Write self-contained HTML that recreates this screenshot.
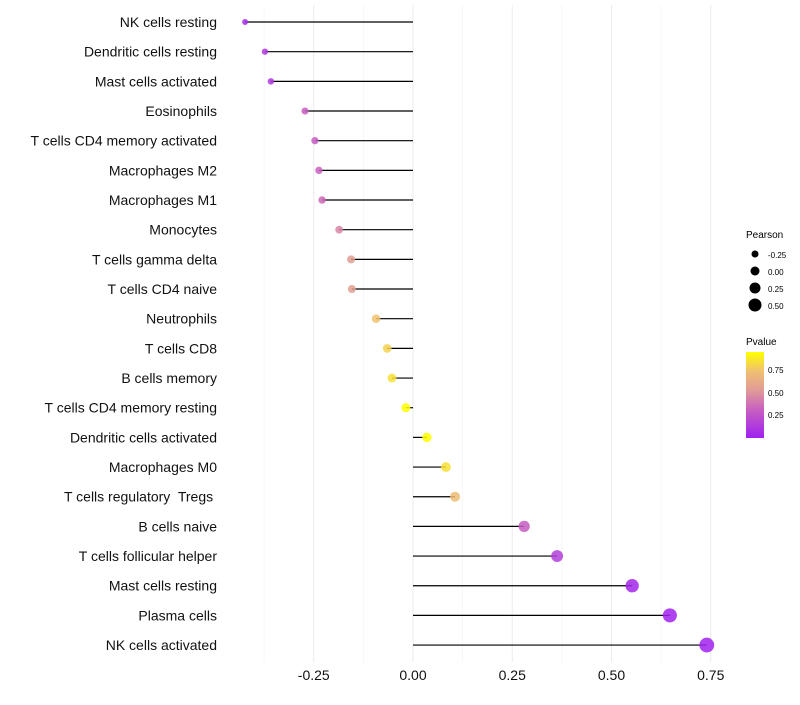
<!DOCTYPE html>
<html><head><meta charset="utf-8"><style>
body{margin:0;background:#fff;font-family:"Liberation Sans",sans-serif}
text{white-space:pre}
</style></head><body>
<svg id="chart" width="800" height="700" xmlns="http://www.w3.org/2000/svg">
<defs><linearGradient id="pg" x1="0" y1="1" x2="0" y2="0">
<stop offset="0" stop-color="#A020F0"/><stop offset="0.33" stop-color="#C860C0"/><stop offset="0.55" stop-color="#E09A98"/><stop offset="0.78" stop-color="#F0C070"/><stop offset="1" stop-color="#FFFF00"/></linearGradient></defs>
<g id="grid"></g><g id="marks"></g><g id="labels"></g>
<g font-size="10">
<text x="746" y="238">Pearson</text>
<circle cx="755" cy="254" r="3.5"/><text x="768" y="258" font-size="8">-0.25</text>
<circle cx="755" cy="271" r="4.5"/><text x="768" y="275" font-size="8">0.00</text>
<circle cx="755" cy="288" r="5.5"/><text x="768" y="292" font-size="8">0.25</text>
<circle cx="755" cy="305" r="6.5"/><text x="768" y="309" font-size="8">0.50</text>
</g>
<g font-size="10">
<text x="746" y="345">Pvalue</text>
<rect x="746" y="352" width="18" height="86" fill="url(#pg)"/>
<text x="768" y="373" font-size="8">0.75</text>
<text x="768" y="396" font-size="8">0.50</text>
<text x="768" y="418" font-size="8">0.25</text>
</g>
</svg>
<script>
const categories=["NK cells resting","Dendritic cells resting","Mast cells activated","Eosinophils","T cells CD4 memory activated","Macrophages M2","Macrophages M1","Monocytes","T cells gamma delta","T cells CD4 naive","Neutrophils","T cells CD8","B cells memory","T cells CD4 memory resting","Dendritic cells activated","Macrophages M0","T cells regulatory  Tregs ","B cells naive","T cells follicular helper","Mast cells resting","Plasma cells","NK cells activated"];
const pearson=[-0.423,-0.373,-0.358,-0.272,-0.247,-0.237,-0.229,-0.186,-0.156,-0.154,-0.093,-0.065,-0.053,-0.018,0.035,0.083,0.106,0.28,0.363,0.552,0.647,0.74];
const pvalues=[0.05,0.12,0.12,0.3,0.3,0.32,0.35,0.45,0.55,0.55,0.75,0.8,0.85,0.95,0.95,0.85,0.72,0.3,0.15,0.03,0.01,0.01];
const ticks=[-0.25,0,0.25,0.5,0.75];
const tickLabels=["-0.25","0.00","0.25","0.50","0.75"];
const NS="http://www.w3.org/2000/svg";
const x=v=>413+v*397, y=i=>22+i*29.67, r=v=>4.6+3.8*v;
const stops=[[0,[160,32,240]],[0.33,[200,96,192]],[0.55,[224,154,152]],[0.78,[240,192,112]],[1,[255,255,0]]];
function col(p){let t=Math.max(0,Math.min(1,p/0.95));for(let k=1;k<stops.length;k++){if(t<=stops[k][0]){const a=stops[k-1],b=stops[k],f=(t-a[0])/(b[0]-a[0]);return "rgb("+a[1].map((c,j)=>Math.round(c+(b[1][j]-c)*f)).join(",")+")";}}return "rgb(255,255,0)";}
function mk(t,at,p){const e=document.createElementNS(NS,t);for(const k in at)e.setAttribute(k,at[k]);p.appendChild(e);return e;}
const grid=document.getElementById("grid"),marks=document.getElementById("marks"),labels=document.getElementById("labels");
for(let v=-0.375;v<=0.76;v+=0.125){const major=Math.abs(v/0.25-Math.round(v/0.25))<1e-6;
const l=mk("line",{x1:x(v),x2:x(v),y1:5,y2:662,stroke:major?"#ebebeb":"#f4f4f4","stroke-width":major?1:0.7},grid);

}
ticks.forEach((t,i)=>{const e=mk("text",{x:x(t),y:680,"text-anchor":"middle","font-size":"14",fill:"#111"},labels);e.textContent=tickLabels[i];

});
categories.forEach((c,i)=>{
const t=mk("text",{x:217,y:y(i)+5,"text-anchor":"end","font-size":"14",fill:"#111"},labels);t.textContent=c;


const l=mk("line",{x1:x(0),x2:x(pearson[i]),y1:y(i),y2:y(i),stroke:"#000","stroke-width":1.2},marks);


const p=mk("circle",{cx:x(pearson[i]),cy:y(i),r:Math.max(1.8,r(pearson[i])),fill:col(pvalues[i]),"fill-opacity":0.85},marks);


});
</script>
</body></html>
